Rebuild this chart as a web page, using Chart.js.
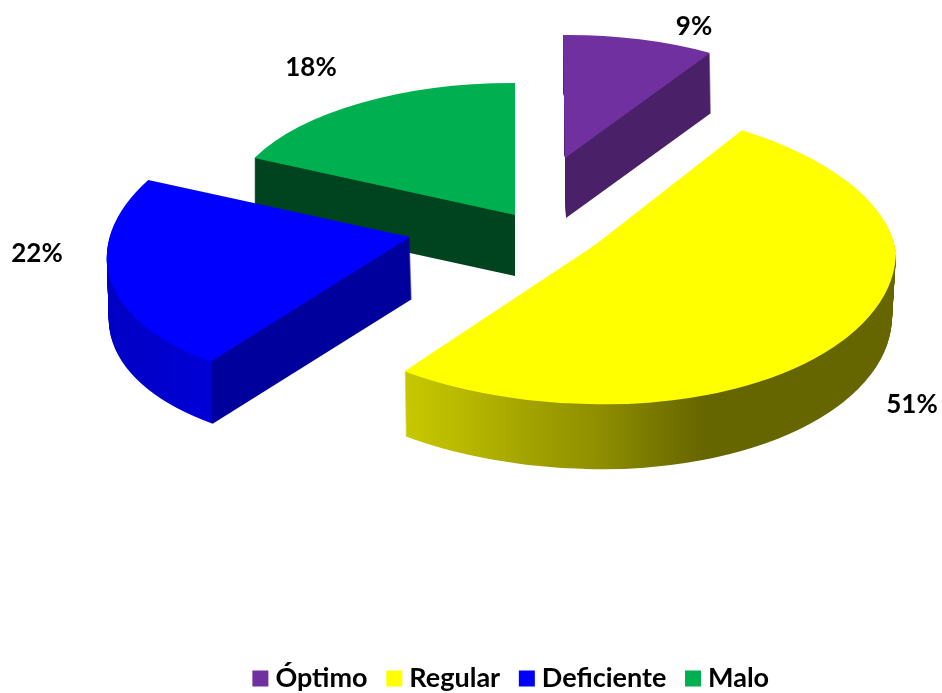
<!DOCTYPE html>
<html>
<head>
<meta charset="utf-8">
<style>html,body{margin:0;padding:0;background:#fff}canvas{display:block}</style>
<script src="https://cdn.jsdelivr.net/npm/chart.js@4/dist/chart.umd.min.js"></script>
</head>
<body>
<canvas id="c" width="942" height="693"></canvas>
<script>
const categories = ['Óptimo', 'Regular', 'Deficiente', 'Malo'];
const percentValues = [9, 51, 22, 18];
const topColors = ['#7030a0', '#ffff00', '#0000ff', '#00b050'];

// 3D look: for each slice, screen geometry of its face.
// apex = tip; pieces = axis vectors of the projected circle per quadrant of the local plane
const faces = [
  { apex: [565, 158], drop: [1, 60], pieces: [{ u: [274, -2], v: [-2, -123] }] },
  { apex: [595, 245], drop: [1, 65], pieces: [
      { u: [301, 8], v: [-17, -141], q: [1, -1], dropX: -4 },
      { u: [301, 8], v: [3, -159], q: [1, 1], dropX: -4 },
      { u: [320, 4], v: [3, -159], q: [-1, 1] }] },
  { apex: [410, 237], drop: [2, 62], pieces: [{ u: [302, -7], v: [27, -149] }] },
  { apex: [515, 215], drop: [0, 61], pieces: [{ u: [288, 1], v: [0, -132] }] }
];
// side shading as screen-x colour stops
const sideStops = [
  [[560, '#4a2168'], [720, '#4a2168']],
  [[405, '#c8c800'], [470, '#b6b600'], [530, '#a2a200'], [600, '#8e8e00'], [670, '#727200'], [705, '#666600'], [900, '#666600']],
  [[105, '#0000c4'], [160, '#0000cc'], [211.5, '#0000d8'], [212.5, '#00009c'], [415, '#00009c']],
  [[250, '#00441f'], [520, '#00441f']]
];
const drawOrder = [3, 0, 2, 1];
const labelSpots = [[694, 27], [912, 405], [37, 254], [311, 68]];

function arcOpts(fill) {
  return { backgroundColor: fill, borderColor: 'rgba(0,0,0,0)', borderWidth: 0, borderAlign: 'center',
    borderRadius: 0, offset: 0, spacing: 0, circular: true, borderDash: [], borderDashOffset: 0, borderJoinStyle: 'round' };
}
function drawPiece(ctx, el, face, p, fill, dx, dy, stops) {
  const R = el.outerRadius, cx = el.x, cy = el.y;
  const a = p.u[0] / R, b = p.u[1] / R, c = -p.v[0] / R, d = -p.v[1] / R;
  const e = face.apex[0] - a * cx - c * cy + dx, f = face.apex[1] - b * cx - d * cy + dy;
  ctx.save();
  ctx.transform(a, b, c, d, e, f);
  if (p.q) {
    const big = R * 2, over = 4;
    const x0 = p.q[0] > 0 ? cx - over : cx - big, y0 = p.q[1] > 0 ? cy - over : cy - big;
    ctx.beginPath();
    ctx.rect(x0, y0, big + over, big + over);
    ctx.clip();
  }
  let style = fill;
  if (stops) {
    const x0 = stops[0][0], x1 = stops[stops.length - 1][0];
    const sx = (x0 - e) / a, sy = 0, k = (x1 - x0) / (a * a + c * c);
    const g = ctx.createLinearGradient(sx, sy, sx + a * k, sy + c * k);
    stops.forEach(s => g.addColorStop((s[0] - x0) / (x1 - x0), s[1]));
    style = g;
  }
  const saved = el.options;
  el.options = arcOpts(style);
  el.draw(ctx);
  el.options = saved;
  ctx.restore();
}
const pie3d = {
  id: 'pie3d',
  beforeDatasetsDraw(chart) {
    const ctx = chart.ctx, arcs = chart.getDatasetMeta(0).data;
    drawOrder.forEach(i => {
      const face = faces[i], el = arcs[i], n = Math.round(face.drop[1]);
      for (let s = n; s >= 1; s--) {
        face.pieces.forEach(p => {
          const dropX = p.dropX !== undefined ? p.dropX : face.drop[0];
          drawPiece(ctx, el, face, p, null, dropX * s / n, s, sideStops[i]);
        });
      }
      face.pieces.forEach(p => drawPiece(ctx, el, face, p, topColors[i], 0, 0, null));
    });
    return false;
  },
  afterDraw(chart) {
    const ctx = chart.ctx;
    ctx.save();
    ctx.font = 'bold 26px Lato';
    ctx.fillStyle = '#000';
    ctx.textAlign = 'center';
    ctx.textBaseline = 'middle';
    percentValues.forEach((v, i) => ctx.fillText(v + '%', labelSpots[i][0], labelSpots[i][1]));
    ctx.restore();
  }
};
new Chart(document.getElementById('c'), {
  type: 'pie',
  data: { labels: categories, datasets: [{ data: percentValues, backgroundColor: topColors, borderWidth: 0 }] },
  plugins: [pie3d],
  options: {
    responsive: false,
    animation: false,
    layout: { padding: { left: 86, bottom: -9 } },
    plugins: {
      tooltip: { enabled: false },
      legend: {
        position: 'bottom',
        labels: {
          font: { family: 'Lato', weight: 'bold', size: 27 },
          color: '#000',
          boxWidth: 3,
          boxHeight: 3,
          padding: 25.2,
          generateLabels: () => categories.map((t, i) => ({
            text: t, fillStyle: topColors[i], strokeStyle: topColors[i], lineWidth: 13, index: i, hidden: false
          }))
        }
      }
    }
  }
});
</script>
</body>
</html>
